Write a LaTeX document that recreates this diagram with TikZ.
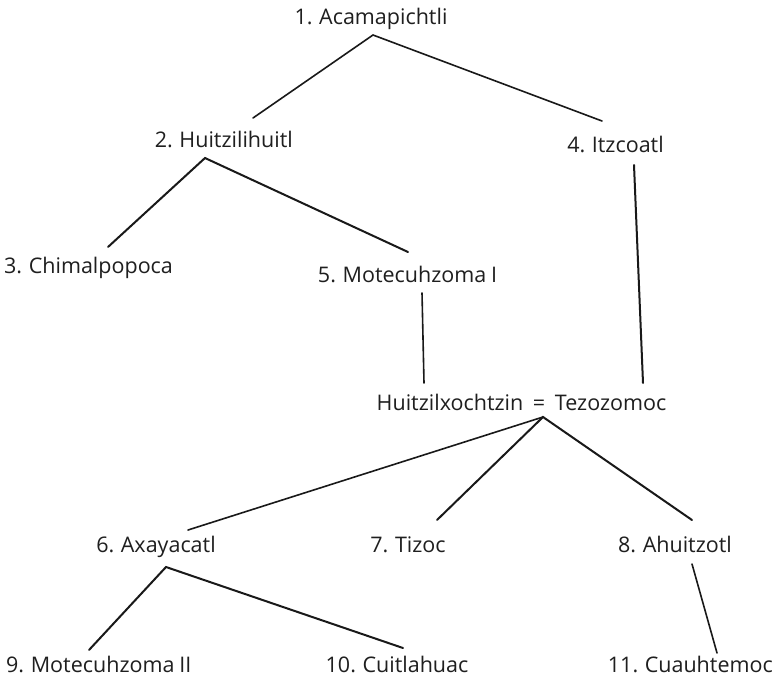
\documentclass[tikz,border=0pt]{standalone}
\usepackage{fontspec}
\setmainfont{Open Sans}[WordSpace=0.85]
\begin{document}
\begin{tikzpicture}[x=1pt,y=-1pt,
  lbl/.style={anchor=base, inner sep=0pt, font=\fontsize{21.5}{24}\selectfont, text=black!88},
  edge/.style={line width=2pt, line cap=round, black!90},
  thin edge/.style={edge, line width=1.6pt}]
\useasboundingbox[fill=white] (0,0) rectangle (776,680);
% labels
\node[lbl] (n1) at (371,24) {1. Acamapichtli};
\node[lbl, anchor=base east] (n2) at (293,147) {2. Huitzilihuitl};
\node[lbl] (n4) at (615.5,152) {4. Itzcoatl};
\node[lbl, anchor=base west] (n3) at (4,273) {3. Chimalpopoca};
\node[lbl] (n5) at (407.5,282) {5. Motecuhzoma I};
\node[lbl] (nH) at (521.5,410) {Huitzilxochtzin\hspace{0.45em}=\hspace{0.45em}Tezozomoc};
\node[lbl] (n6) at (156,552) {6. Axayacatl};
\node[lbl] (n7) at (408,552) {7. Tizoc};
\node[lbl] (n8) at (675,552) {8. Ahuitzotl};
\node[lbl, anchor=base west] (n9) at (6,672) {9. Motecuhzoma II};
\node[lbl] (n10) at (397,672) {10. Cuitlahuac};
\node[lbl, anchor=base east] (n11) at (773,672) {11. Cuauhtemoc};
% line end points
\coordinate (a1) at (373,35);
\coordinate (t2) at (253,118);
\coordinate (t4) at (602,121);
\coordinate (a2) at (205,158);
\coordinate (t3) at (108,247);
\coordinate (t5) at (408,252);
\coordinate (b5) at (422,293);
\coordinate (h5) at (424,383);
\coordinate (b4) at (634,165);
\coordinate (h4) at (643,383);
\coordinate (aH) at (543,417);
\coordinate (t6) at (188,530);
\coordinate (t7) at (437,520);
\coordinate (t8) at (692,520);
\coordinate (a6) at (166,567);
\coordinate (t9) at (89,650);
\coordinate (t10) at (403,648);
\coordinate (b8) at (692,564);
\coordinate (t11) at (717,653);
% connectors
\draw[thin edge] (t2) -- (a1) -- (t4);
\draw[edge] (t3) -- (a2) -- (t5);
\draw[thin edge] (b5) -- (h5);
\draw[edge] (b4) -- (h4);
\draw[thin edge] (t6) -- (aH);
\draw[edge] (t7) -- (aH) -- (t8);
\draw[edge] (t9) -- (a6) -- (t10);
\draw[thin edge] (b8) -- (t11);
\end{tikzpicture}
\end{document}
